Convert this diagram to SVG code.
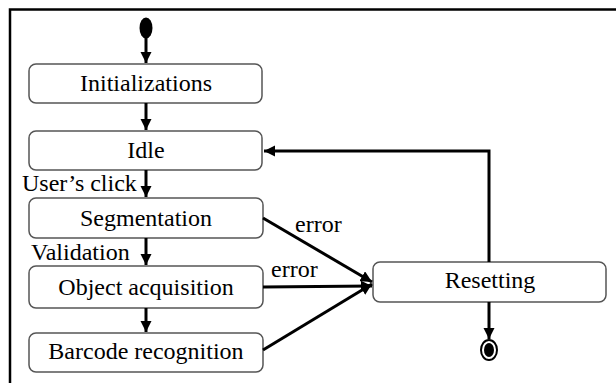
<svg xmlns="http://www.w3.org/2000/svg" width="616" height="383" viewBox="0 0 616 383">
<defs>
<marker id="ah" viewBox="0 0 10 10" refX="10" refY="5" markerWidth="3.8" markerHeight="3.8" orient="auto" markerUnits="strokeWidth">
<path d="M0,0 L10,5 L0,10 z" fill="#000"/>
</marker>
</defs>
<style>
.box{fill:#fff;stroke:#555;stroke-width:1.5}
.e{fill:none;stroke:#000;stroke-width:3}
</style>
<rect width="616" height="383" fill="#fff"/>
<path d="M10,383 V9.5 H616" fill="none" stroke="#000" stroke-width="2.5"/>
<g id="start"><ellipse cx="146" cy="28" rx="6.5" ry="10.5" fill="#000"/></g>
<g id="initializations"><rect class="box" x="29" y="64" width="233" height="39" rx="7"/><text x="146" y="90.5" text-anchor="middle" font-family="Liberation Serif, serif" font-size="24">Initializations</text></g>
<g id="idle"><rect class="box" x="29" y="131" width="233" height="39" rx="7"/><text x="146" y="157.5" text-anchor="middle" font-family="Liberation Serif, serif" font-size="24">Idle</text></g>
<g id="segmentation"><rect class="box" x="29" y="198" width="234" height="40" rx="7"/><text x="146" y="226" text-anchor="middle" font-family="Liberation Serif, serif" font-size="24">Segmentation</text></g>
<g id="object-acquisition"><rect class="box" x="29" y="266" width="234" height="42" rx="7"/><text x="146" y="295" text-anchor="middle" font-family="Liberation Serif, serif" font-size="24">Object acquisition</text></g>
<g id="barcode-recognition"><rect class="box" x="29" y="333" width="234" height="39" rx="7"/><text x="146" y="358.5" text-anchor="middle" font-family="Liberation Serif, serif" font-size="24">Barcode recognition</text></g>
<g id="resetting"><rect class="box" x="373" y="262" width="233" height="40" rx="7"/><text x="490" y="287.5" text-anchor="middle" font-family="Liberation Serif, serif" font-size="24">Resetting</text></g>
<g id="end"><ellipse cx="489" cy="350" rx="8" ry="10" fill="#fff" stroke="#000" stroke-width="2"/><ellipse cx="489" cy="350" rx="5" ry="7" fill="#000"/></g>
<g id="connectors">
<path class="e" d="M146,38 V63" marker-end="url(#ah)"/>
<path class="e" d="M146,103 V130" marker-end="url(#ah)"/>
<path class="e" d="M146,170 V197" marker-end="url(#ah)"/>
<path class="e" d="M146,238 V265" marker-end="url(#ah)"/>
<path class="e" d="M146,308 V332" marker-end="url(#ah)"/>
<path class="e" d="M263,218 L372,282" marker-end="url(#ah)"/>
<path class="e" d="M263,287 L372,286" marker-end="url(#ah)"/>
<path class="e" d="M263,350 L372,284" marker-end="url(#ah)"/>
<path class="e" d="M489,262 V151 H264" marker-end="url(#ah)"/>
<path class="e" d="M489,302 V339" marker-end="url(#ah)"/>
<text x="22" y="190.5" font-family="Liberation Serif, serif" font-size="24">User’s click</text>
<text x="31" y="260" font-family="Liberation Serif, serif" font-size="24">Validation</text>
<text x="295" y="231.5" font-family="Liberation Serif, serif" font-size="24">error</text>
<text x="271" y="276.5" font-family="Liberation Serif, serif" font-size="24">error</text>
</g>
</svg>
